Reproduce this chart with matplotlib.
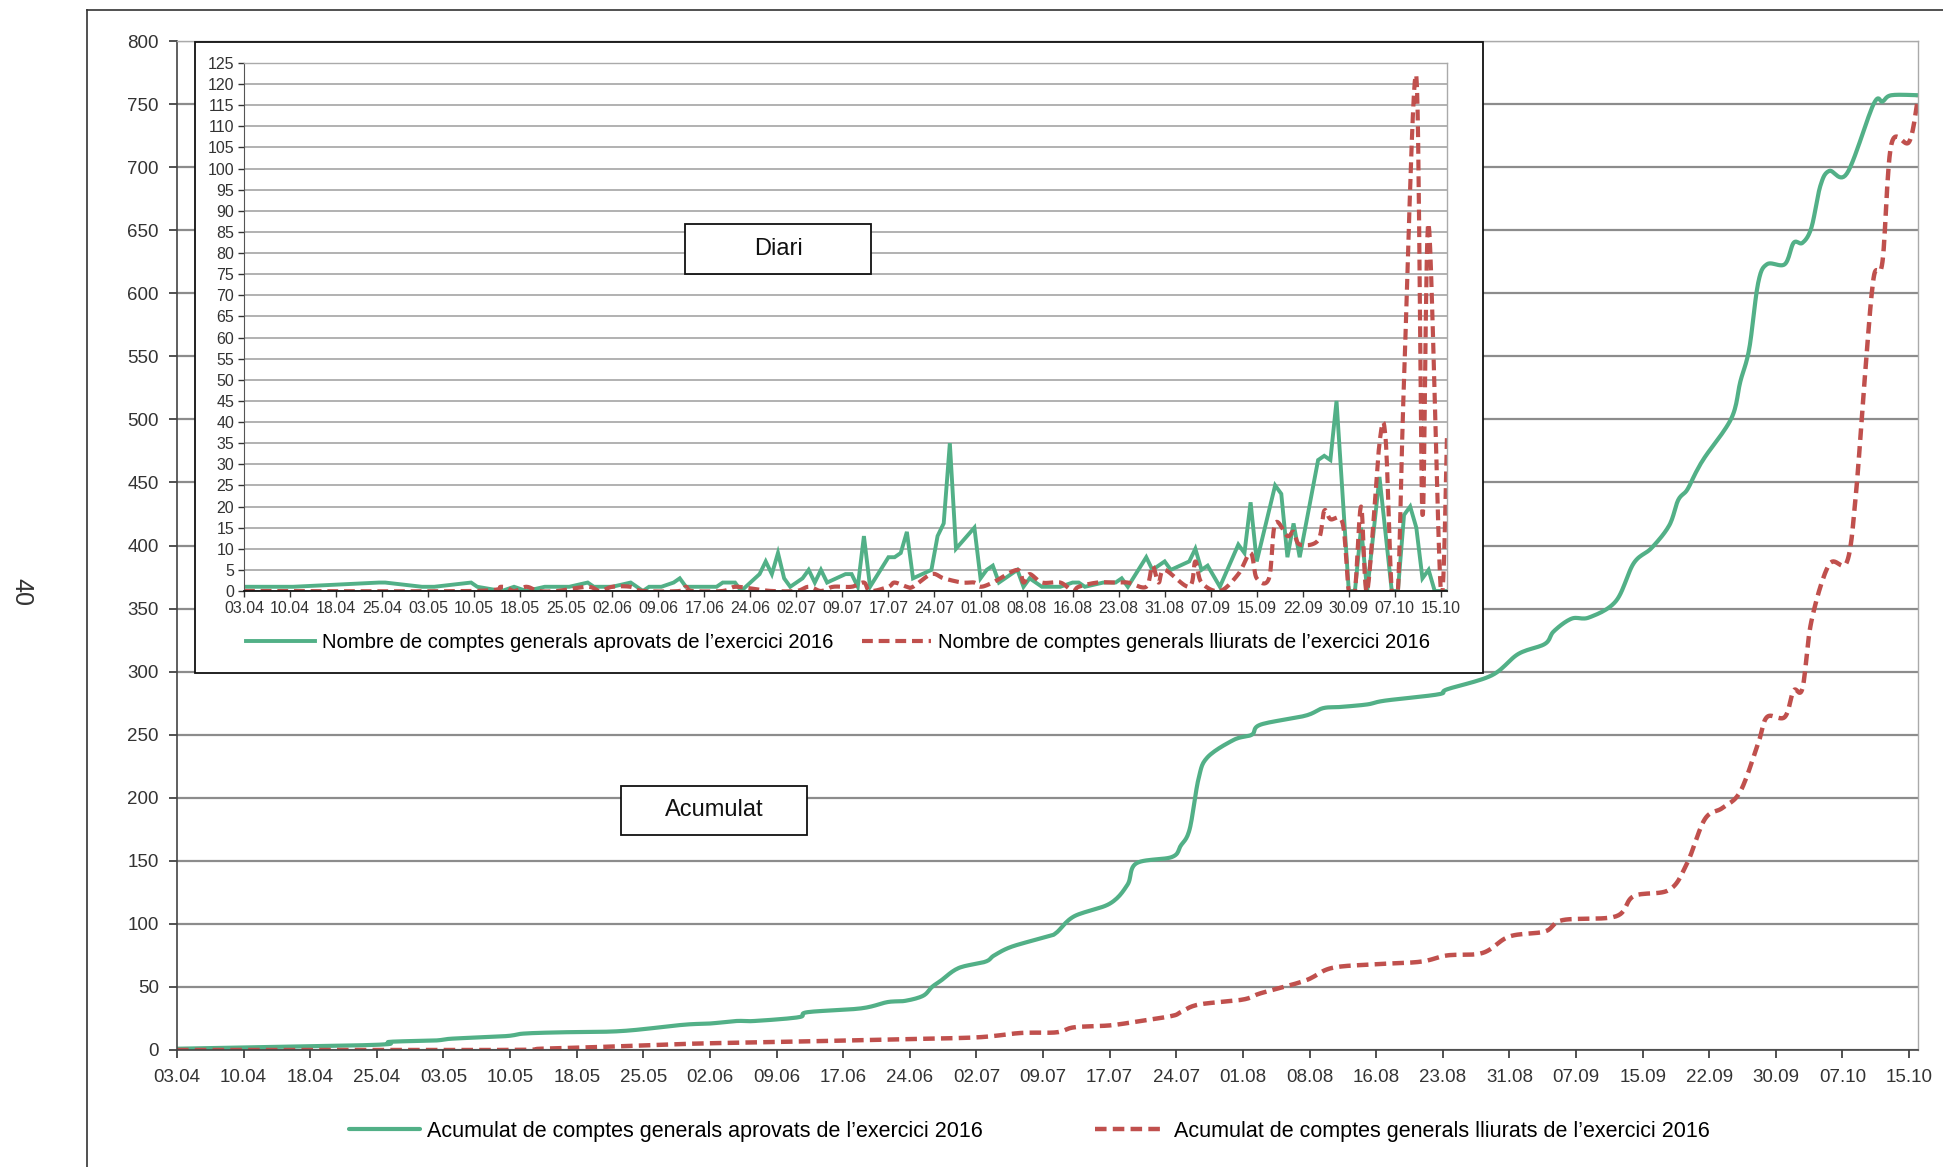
import numpy as np
import matplotlib
matplotlib.use("Agg")
import matplotlib.pyplot as plt
from matplotlib.patches import Rectangle
from matplotlib.lines import Line2D

plt.rcParams['font.family'] = ['Liberation Sans', 'DejaVu Sans']

# x = dies des del 03.04.2016
tick_labels = ['03.04', '10.04', '18.04', '25.04', '03.05', '10.05', '18.05', '25.05',
               '02.06', '09.06', '17.06', '24.06', '02.07', '09.07', '17.07', '24.07',
               '01.08', '08.08', '16.08', '23.08', '31.08', '07.09', '15.09', '22.09',
               '30.09', '07.10', '15.10']

# acumulat - comptes aprovats
dies_aprov_acum = [0, 22, 24, 29, 31, 37, 39, 43, 50, 57, 60, 63, 65, 70, 71, 77, 80, 82, 84,
                   85, 86, 88, 91, 92, 94, 98, 99, 101, 105, 107, 108, 112, 113, 114, 115, 116,
                   119, 121, 122, 127, 129, 131, 134, 136, 142, 143, 148, 151, 154, 155, 157,
                   159, 162, 164, 166, 168, 169, 170, 171, 172, 175, 176, 177, 178, 179, 181,
                   182, 183, 184, 185, 186, 188, 191, 192, 193, 196]
aprov_acum = [1, 4, 6.5, 7.5, 9, 11, 13, 14, 15, 20, 21, 23, 23, 26, 30, 33, 38, 39, 43,
              50, 55, 65, 70, 75, 82, 90, 93, 106, 116, 131, 148, 153, 162, 175, 215, 232,
              246, 250, 258, 265, 271, 272, 274, 277, 282, 286, 297, 314, 322, 332, 342,
              343, 356, 386, 398, 416, 436, 444, 458, 470, 501, 530, 556, 608, 623, 623,
              640, 640, 652, 685, 697, 695, 750, 752, 757, 757]

# acumulat - comptes lliurats
dies_lliur_acum = [0, 36, 41, 46, 50, 58, 65, 72, 81, 90, 95, 99, 101, 105, 108, 112, 113, 115,
                   120, 122, 127, 130, 135, 140, 143, 147, 150, 154, 156, 162, 164, 168, 170,
                   172, 174, 176, 178, 179, 181, 182, 183, 184, 186, 188, 189, 190, 191, 192,
                   193, 195, 196]
lliur_acum = [0, 0, 1, 2, 3, 5, 6, 7, 8.5, 10, 13.5, 14, 18, 19.5, 22.5, 27, 30, 36,
              40, 45, 55, 65, 68, 70, 75, 77, 90, 94, 103, 106, 122, 127, 148,
              183, 192, 205, 243, 264, 264, 285, 287, 340, 385, 387, 440, 532, 612, 625,
              718, 720, 755]

# diari - comptes aprovats
dies_aprov = [0, 8, 22, 23, 29, 31, 37, 38, 42, 44, 46, 49, 53, 56, 57, 60, 63, 65, 66, 68,
              70, 71, 72, 77, 78, 80, 81, 84, 85, 86, 87, 88, 89, 91, 92, 93, 94, 95, 98, 99,
              100, 101, 102, 105, 106, 107, 108, 109, 112, 113, 114, 115, 116, 119, 120, 121,
              122, 123, 126, 127, 128, 130, 133, 135, 136, 137, 140, 142, 143, 144, 147, 148,
              150, 151, 154, 155, 156, 157, 159, 162, 163, 164, 165, 168, 169, 170, 171, 172,
              175, 176, 177, 178, 180, 181, 182, 183, 185, 187, 188, 189, 190, 191, 192, 193,
              194, 196]
aprov = [1, 1, 2, 2, 1, 1, 2, 1, 0, 1, 0, 1, 1, 2, 1, 1, 2, 0, 1, 1,
         2, 3, 1, 1, 2, 2, 0, 4, 7, 4, 9, 3, 1, 3, 5, 2, 5, 2, 4, 4,
         1, 13, 1, 8, 8, 9, 14, 3, 5, 13, 16, 35, 10, 15, 3, 5,
         6, 2, 5, 1, 3, 1, 1, 2, 2, 1, 2, 2, 3, 1, 8, 5,
         7, 5, 7, 10, 5, 6, 1, 11, 9, 21, 7, 25, 23, 8, 16, 8,
         31, 32, 31, 45, 0, 0, 15, 0, 27, 0, 0, 18, 20, 15, 3, 5,
         0, 0]

# diari - comptes lliurats
dies_lliur = [0, 37, 42, 44, 46, 48, 51, 56, 58, 60, 63, 65, 71, 72, 73, 78, 80, 83, 86, 90,
              92, 94, 96, 99, 101, 102, 105, 106, 108, 109, 112, 114, 117, 119, 120, 122, 126,
              127, 128, 130, 133, 135, 136, 139, 142, 144, 147, 148, 149, 150, 154, 155, 156,
              159, 162, 164, 165, 167, 168, 170, 171, 172, 175, 176, 177, 179, 180, 181, 182,
              183, 185, 186, 187, 188, 189, 191, 192, 193, 195, 196]
lliur = [0, 0, 1, 0, 1, 0, 0, 1, 0, 1, 1, 0, 0, 1, 0, 0, 1, 0.5, 0, 0,
         1, 0, 1, 1, 2, 0, 1, 2, 1, 1, 4, 3, 2, 2, 1, 2, 5,
         2, 4, 2, 2, 0, 1, 2, 2, 2, 1, 6, 2, 5, 1, 7, 2,
         0, 4, 9, 3, 3, 16, 13, 14, 11, 12, 19, 17, 16, 0, 0, 20,
         0, 35, 36, 0, 0, 50, 122, 18, 87, 0, 37]

verd = '#52b087'
vermell = '#c0504d'


def smooth(x, y, n=14):
    # corba suavitzada tipus Excel (Bezier / Catmull-Rom)
    x = np.asarray(x, float)
    y = np.asarray(y, float)
    px = np.concatenate([[x[0]], x, [x[-1]]])
    py = np.concatenate([[y[0]], y, [y[-1]]])
    t = np.linspace(0, 1, n)[:, None]
    xs, ys = [x[:1]], [y[:1]]
    for i in range(len(x) - 1):
        p0 = np.array([px[i], py[i]])
        p1 = np.array([px[i + 1], py[i + 1]])
        p2 = np.array([px[i + 2], py[i + 2]])
        p3 = np.array([px[i + 3], py[i + 3]])
        c1 = p1 + (p2 - p0) / 6
        c2 = p2 - (p3 - p1) / 6
        b = ((1 - t) ** 3) * p1 + 3 * ((1 - t) ** 2) * t * c1 + 3 * (1 - t) * t ** 2 * c2 + t ** 3 * p2
        xs.append(b[1:, 0])
        ys.append(b[1:, 1])
    return np.concatenate(xs), np.concatenate(ys)


W, H = 1943, 1167
fig = plt.figure(figsize=(W / 100, H / 100), dpi=100)


def fr(x0, y0, x1, y1):
    # caixa en pixels (dalt-esquerra) -> coordenades de figura
    return [x0 / W, 1 - y1 / H, (x1 - x0) / W, (y1 - y0) / H]


tick_pos = np.arange(len(tick_labels)) * 7.5

# ---- grafic principal (acumulat) ----
ax = fig.add_axes(fr(177, 41, 1918, 1050), zorder=0)
ax.set_xlim(0, 196)
ax.set_ylim(0, 800)
ax.set_yticks(np.arange(0, 801, 50))
ax.set_xticks(tick_pos)
ax.set_xticklabels(tick_labels)
ax.grid(axis='y', color='#8c8c8c', lw=1.6)
ax.set_axisbelow(True)
ax.tick_params(axis='both', labelsize=13.5, colors='#333333', length=6, width=1.2)
ax.tick_params(axis='x', pad=8)
ax.tick_params(axis='y', pad=7)
for s in ['left', 'bottom']:
    ax.spines[s].set_color('#444444')
    ax.spines[s].set_linewidth(1.2)
for s in ['top', 'right']:
    ax.spines[s].set_color('#aaaaaa')
    ax.spines[s].set_linewidth(1.0)

gx, gy = smooth(dies_aprov_acum, aprov_acum)
rx, ry = smooth(dies_lliur_acum, lliur_acum)
ax.plot(gx, gy, color=verd, lw=3.0, solid_capstyle='round',
        label='Acumulat de comptes generals aprovats de l’exercici 2016')
ax.plot(rx, ry, color=vermell, lw=3.2, linestyle=(0, (2.6, 1.4)),
        label='Acumulat de comptes generals lliurats de l’exercici 2016')
ax.legend(loc='center', bbox_to_anchor=(1029 / W, 1 - 1131 / H), bbox_transform=fig.transFigure,
          ncol=2, frameon=False, fontsize=15.5, handlelength=3.3, columnspacing=5.2,
          handletextpad=0.35)

# ---- requadre del grafic diari ----
fig.add_artist(Rectangle((195 / W, 1 - 673 / H), (1483 - 195) / W, (673 - 42) / H,
                         transform=fig.transFigure, facecolor='white', edgecolor='#111111',
                         lw=1.3, zorder=1))

ins = fig.add_axes(fr(244, 63, 1447, 591), zorder=2)
ins.set_xlim(0, 196)
ins.set_ylim(0, 125)
ins.set_yticks(np.arange(0, 126, 5))
ins.set_xticks(tick_pos)
ins.set_xticklabels(tick_labels)
ins.grid(axis='y', color='#9c9c9c', lw=1.1)
ins.set_axisbelow(True)
ins.tick_params(axis='both', labelsize=11.5, colors='#333333', length=4, width=1.0, pad=3)
ins.spines['left'].set_color('#555555')
ins.spines['bottom'].set_color('#111111')
ins.spines['bottom'].set_linewidth(1.3)
for s in ['top', 'right']:
    ins.spines[s].set_color('#aaaaaa')
    ins.spines[s].set_linewidth(1.0)

ins.plot(dies_aprov, aprov, color=verd, lw=2.8, solid_joinstyle='miter',
         label='Nombre de comptes generals aprovats de l’exercici 2016')
lx, ly = smooth(dies_lliur, lliur)
ins.plot(lx, ly, color=vermell, lw=3.0, linestyle=(0, (2.6, 1.4)),
         label='Nombre de comptes generals lliurats de l’exercici 2016')
ins.legend(loc='center', bbox_to_anchor=(838 / W, 1 - 643 / H), bbox_transform=fig.transFigure,
           ncol=2, frameon=False, fontsize=14.6, handlelength=3.4, columnspacing=1.4,
           handletextpad=0.35)

# ---- etiquetes amb requadre ----
for (x0, y0, x1, y1), txt in [((685, 224, 871, 274), 'Diari'),
                              ((621, 786, 807, 835), 'Acumulat')]:
    fig.add_artist(Rectangle((x0 / W, 1 - y1 / H), (x1 - x0) / W, (y1 - y0) / H,
                             transform=fig.transFigure, facecolor='white',
                             edgecolor='#111111', lw=1.3, zorder=3))
    fig.text((x0 + x1) / 2 / W, 1 - (y0 + y1) / 2 / H, txt, ha='center', va='center',
             fontsize=17, color='#111111', zorder=4)

# ---- marc de la pagina ----
fig.add_artist(Line2D([87 / W, 1], [1 - 10 / H, 1 - 10 / H], transform=fig.transFigure,
                      color='#333333', lw=1.2))
fig.add_artist(Line2D([87 / W, 87 / W], [0, 1 - 10 / H], transform=fig.transFigure,
                      color='#333333', lw=1.2))
fig.text(21 / W, 1 - 592 / H, '40', rotation=-90, ha='center', va='center',
         fontsize=18, color='#333333')

fig.savefig('out.png', dpi=100)
